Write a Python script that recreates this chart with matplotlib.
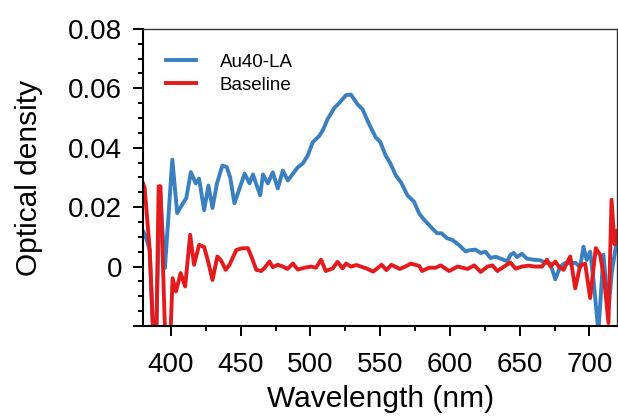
import numpy as np
import matplotlib.pyplot as plt

plt.rcParams['font.family'] = ['Liberation Sans', 'DejaVu Sans']

# Au40-LA spectrum
wl_au = [380, 381.5, 384.8, 387.5, 389.5, 392, 395.7, 401, 404.5, 407, 409.6, 411,
         414.3, 417.8, 420.2, 423.8, 426.9, 429.8, 433, 436.9, 440, 442.5, 445.5, 449,
         452.8, 456.4, 458.8, 461, 464, 466, 469.5, 473, 476.6, 480.2, 483.8, 487,
         490.9, 494.5, 498, 501.6, 506.4, 509, 512.3, 517.1, 520.7, 525.5, 529, 533.8,
         537.4, 542.1, 546.9, 550, 554, 557, 561.2, 565, 569.5, 574.3, 577.8, 581,
         585, 588, 590.9, 594, 598, 601.6, 606.4, 611.2, 614, 618.3, 621.9, 625.5,
         629, 632.6, 636.2, 641, 643.5, 645.7, 648, 651.6, 655, 660, 665, 668,
         672, 675.5, 679, 683, 686.5, 690, 693.3, 695.7, 698, 700.5, 703, 706.4,
         710, 713.6, 716, 719.6]
od_au = [0.012, 0.0107, 0.0056, -0.025, -0.022, 0.027, -0.0005, 0.036, 0.018, 0.020, 0.022, 0.023,
         0.0318, 0.028, 0.0296, 0.019, 0.0273, 0.0197, 0.028, 0.034, 0.0335, 0.030, 0.0213, 0.026,
         0.0313, 0.028, 0.031, 0.028, 0.024, 0.031, 0.028, 0.0317, 0.0263, 0.0323, 0.029, 0.031,
         0.0334, 0.0347, 0.0373, 0.0418, 0.044, 0.046, 0.0496, 0.0534, 0.0551, 0.0577, 0.0579, 0.0546,
         0.0529, 0.0479, 0.0434, 0.042, 0.0373, 0.035, 0.0307, 0.0283, 0.024, 0.0218, 0.018, 0.016,
         0.014, 0.0125, 0.0112, 0.0112, 0.0095, 0.009, 0.0073, 0.0051, 0.0055, 0.0057, 0.0046, 0.005,
         0.0029, 0.0033, 0.0027, 0.0018, 0.004, 0.0046, 0.0032, 0.0043, 0.0027, 0.0023, 0.0021, 0.0013,
         0.001, -0.0043, 0.0, 0.0013, 0.001, 0.0013, -0.0003, 0.0067, 0.0022, 0.005, -0.005, -0.022,
         0.004, -0.0146, -0.002, 0.009]

# Baseline
wl_bl = [380, 381.2, 384.8, 387.5, 389.5, 391.2, 392.5, 396, 399.5, 401.2, 403.6, 407,
         410.2, 413.8, 416.6, 420.2, 423.8, 426.5, 429.8, 433.3, 436, 439.3, 442, 446.9,
         450.4, 455.2, 458, 461.2, 464.8, 467, 470.7, 473, 476.6, 480.2, 483.5, 487.4,
         491, 495.7, 500.5, 504, 507.6, 511, 516, 519.5, 523, 525.5, 529, 533, 540,
         545, 551, 554.5, 558, 564, 568, 572, 578, 580, 585, 589.8, 593.4, 599.4,
         605.4, 612.6, 617.4, 622, 626.9, 630.5, 634, 638.8, 643.3, 647, 651.6, 656.3,
         661, 666, 669.5, 672, 675.5, 678, 681.4, 686.2, 689.8, 693.3, 696.9, 700.5,
         704.5, 707.6, 710.5, 713.6, 715.8, 718, 720]
od_bl = [0.028, 0.0264, 0.0056, -0.025, -0.025, 0.027, 0.027, -0.025, -0.025, -0.0039, -0.0084, -0.0022,
         -0.0067, 0.0107, 0.0006, 0.0073, 0.0066, 0.002, -0.0045, 0.0034, 0.002, -0.0011, 0.0006, 0.0056,
         0.0061, 0.0062, 0.003, -0.0011, -0.0015, -0.0005, 0.0017, -0.0002, 0.0006, 0.0, -0.0008, 0.001,
         -0.001, -0.0004, 0.0, -0.0004, 0.0023, -0.0015, -0.0006, 0.0016, -0.0006, 0.001, 0.0, 0.0005, -0.0006,
         -0.0017, 0.0006, -0.0012, 0.0006, -0.0008, 0.0, 0.001, 0.0002, -0.0015, -0.0004, -0.0004, 0.0004, -0.0015,
         0.0, -0.0008, 0.0004, -0.0018, 0.0, 0.0004, -0.0015, 0.0, 0.0014, -0.0007, 0.0, 0.0003,
         0.0, 0.0, 0.0023, 0.0, 0.0017, 0.0, -0.0011, 0.0034, -0.0073, 0.0003, 0.001, -0.0106,
         0.0062, 0.004, -0.004, -0.019, 0.0225, 0.0075, 0.012]

fig = plt.figure(figsize=(6.18, 4.19), dpi=100)
ax = fig.add_axes([0.2314, 0.222, 0.7676, 0.709])

ax.plot(wl_au, od_au, color='#3a7fc0', lw=2.8, label='Au40-LA')
ax.plot(wl_bl, od_bl, color='#e41a1c', lw=2.8, label='Baseline')

ax.set_xlim(380, 720)
ax.set_ylim(-0.02, 0.08)
ax.set_xticks([400, 450, 500, 550, 600, 650, 700])
ax.set_xticks(np.arange(425, 720, 50), minor=True)
ax.set_yticks([-0.02, 0, 0.02, 0.04, 0.06, 0.08])
ax.set_yticklabels(['', '0', '0.02', '0.04', '0.06', '0.08'])
ax.set_yticks(np.arange(-0.02, 0.08, 0.005), minor=True)

ax.tick_params(which='major', direction='out', length=7, width=1.4, labelsize=20)
ax.tick_params(axis='x', which='major', pad=12)
ax.tick_params(axis='y', which='major', pad=8)
ax.tick_params(which='minor', direction='out', length=3.5, width=1.4)
for side in ['left', 'bottom']:
    ax.spines[side].set_linewidth(1.5)
for side in ['top', 'right']:
    ax.spines[side].set_linewidth(1.0)
    ax.spines[side].set_color('#333333')

ax.set_xlabel('Wavelength (nm)', fontsize=21.5, labelpad=5)
ax.set_ylabel('Optical density', fontsize=21.5, labelpad=18)

ax.legend(loc='upper left', bbox_to_anchor=(0.02, 0.96), frameon=False, fontsize=13.5,
          handlelength=1.6, handletextpad=1.3, labelspacing=0.3, borderpad=0.2)

plt.savefig('out.png', dpi=100)
